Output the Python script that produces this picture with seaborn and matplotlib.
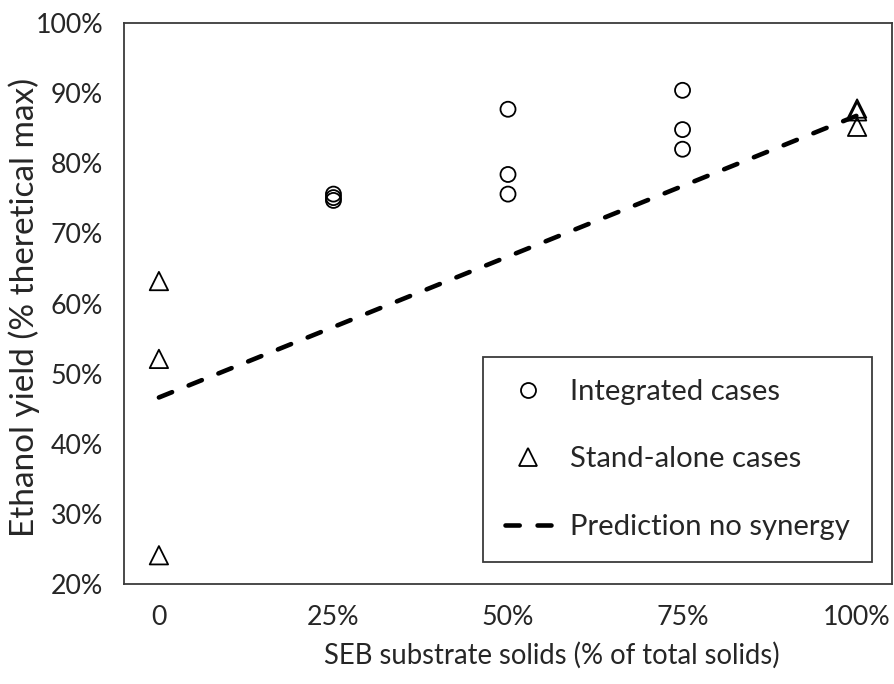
import matplotlib
matplotlib.use("Agg")
import matplotlib.pyplot as plt
from matplotlib.lines import Line2D
from matplotlib.ticker import FixedLocator, FixedFormatter
import pandas as pd
import seaborn as sns

# SEB share of total solids (%) and measured ethanol yield (% of theoretical max)
integrated_x = [25, 25, 25, 50, 50, 50, 75, 75, 75]
integrated_y = [75.6, 75.1, 74.7, 87.7, 78.4, 75.6, 90.4, 84.8, 82.0]
standalone_x = [0, 0, 0, 100, 100, 100]
standalone_y = [63.2, 52.1, 24.1, 87.8, 87.4, 85.2]

# Linear mixing prediction (no synergy) between the two stand-alone substrates
prediction_x = [0, 100]
prediction_y = [46.6, 86.8]

x_ticks = [0, 25, 50, 75, 100]
x_tick_labels = ["0", "25%", "50%", "75%", "100%"]
y_ticks = [20, 30, 40, 50, 60, 70, 80, 90, 100]
y_tick_labels = ["20%", "30%", "40%", "50%", "60%", "70%", "80%", "90%", "100%"]

x_title = "SEB substrate solids (% of total solids)"
y_title = "Ethanol yield (% theretical max)"
series_labels = ["Integrated cases", "Stand-alone cases", "Prediction no synergy"]

sns.set_theme(style="white")
plt.rcParams["font.family"] = ["Lato", "DejaVu Sans"]
text_color = "#262626"
frame_color = "#3a3a3a"

integrated = pd.DataFrame({"x": integrated_x, "y": integrated_y})
standalone = pd.DataFrame({"x": standalone_x, "y": standalone_y})
prediction = pd.DataFrame({"x": prediction_x, "y": prediction_y})

W, H = 895, 684
fig = plt.figure(figsize=(W / 100, H / 100), dpi=100)
renderer = fig.canvas.get_renderer()


def text_extent(s, size):
    t = fig.text(0, 0, s, fontsize=size)
    bb = t.get_window_extent(renderer)
    t.remove()
    return bb.width, bb.height


def fit_size(s, width_px, ref=20.0):
    return ref * width_px / text_extent(s, ref)[0]


# font sizes chosen so that each text spans a given pixel width
tick_fs = fit_size("100%", 68)
legend_fs = fit_size(series_labels[2], 280)
xtitle_fs = fit_size(x_title, 457)
ytitle_fs = fit_size(y_title, 460)

ax_left, ax_right, ax_top, ax_bottom = 124, 892, 23, 584
ax = fig.add_axes([ax_left / W, (H - ax_bottom) / H,
                   (ax_right - ax_left) / W, (ax_bottom - ax_top) / H])

line_w = 3.3
dash_pattern = (3.1, 3.9)
sns.lineplot(data=prediction, x="x", y="y", ax=ax, color="black",
             linewidth=line_w, legend=False)
pred_line = ax.lines[-1]
pred_line.set_dashes(dash_pattern)
pred_line.set_dash_capstyle("round")

sns.scatterplot(data=integrated, x="x", y="y", ax=ax, marker="o", s=117,
                facecolor="none", edgecolor="black", linewidth=1.3,
                legend=False, zorder=3)
sns.scatterplot(data=standalone, x="x", y="y", ax=ax, marker="^", s=175,
                facecolor="none", edgecolor="black", linewidth=1.3,
                legend=False, zorder=3)

ax.set_xlim(-5, 105)
ax.set_ylim(20, 100)
ax.xaxis.set_major_locator(FixedLocator(x_ticks))
ax.xaxis.set_major_formatter(FixedFormatter(x_tick_labels))
ax.yaxis.set_major_locator(FixedLocator(y_ticks))
ax.yaxis.set_major_formatter(FixedFormatter(y_tick_labels))
ax.tick_params(axis="both", length=0, labelsize=tick_fs, colors=text_color, pad=15)

for spine in ax.spines.values():
    spine.set_visible(True)
    spine.set_color(frame_color)
    spine.set_linewidth(1.3)

ax_w = ax_right - ax_left
ax_h = ax_bottom - ax_top

ax.set_xlabel(x_title, fontsize=xtitle_fs, color=text_color)
ax.xaxis.label.set_verticalalignment("center")
ax.xaxis.set_label_coords((552 - ax_left) / ax_w, (ax_bottom - 655) / ax_h)

ax.set_ylabel(y_title, fontsize=ytitle_fs, color=text_color)
ax.yaxis.label.set_horizontalalignment("center")
ax.yaxis.label.set_verticalalignment("center")
ax.yaxis.set_label_coords((24 - ax_left) / ax_w, (ax_bottom - 307) / ax_h)

# legend geometry in pixels: box corner, handle start/length, text start, row pitch
em = legend_fs * 100 / 72
row_h = text_extent(series_labels[0], legend_fs)[1]
box_x, box_y = 483, 357
handle_x0, handle_len, text_x0, row_pitch = 505, 46, 570, 67.5

handles = [
    Line2D([], [], linestyle="none", marker="o", markersize=10.8,
           markerfacecolor="none", markeredgecolor="black", markeredgewidth=1.3),
    Line2D([], [], linestyle="none", marker="^", markersize=13.2,
           markerfacecolor="none", markeredgecolor="black", markeredgewidth=1.3),
    Line2D([], [], color="black", linewidth=line_w, dashes=dash_pattern,
           dash_capstyle="round"),
]
leg = ax.legend(handles, series_labels, loc="upper left",
                bbox_to_anchor=(box_x / W, 1 - box_y / H),
                bbox_transform=fig.transFigure,
                fontsize=legend_fs, frameon=True, fancybox=False, framealpha=1,
                edgecolor=frame_color,
                borderpad=(handle_x0 - box_x) / em,
                handlelength=handle_len / em,
                handletextpad=(text_x0 - handle_x0 - handle_len) / em,
                labelspacing=(row_pitch - row_h) / em,
                borderaxespad=0)
leg.get_frame().set_linewidth(1.3)
for t in leg.get_texts():
    t.set_color(text_color)

fig.savefig("out.png", dpi=100)
